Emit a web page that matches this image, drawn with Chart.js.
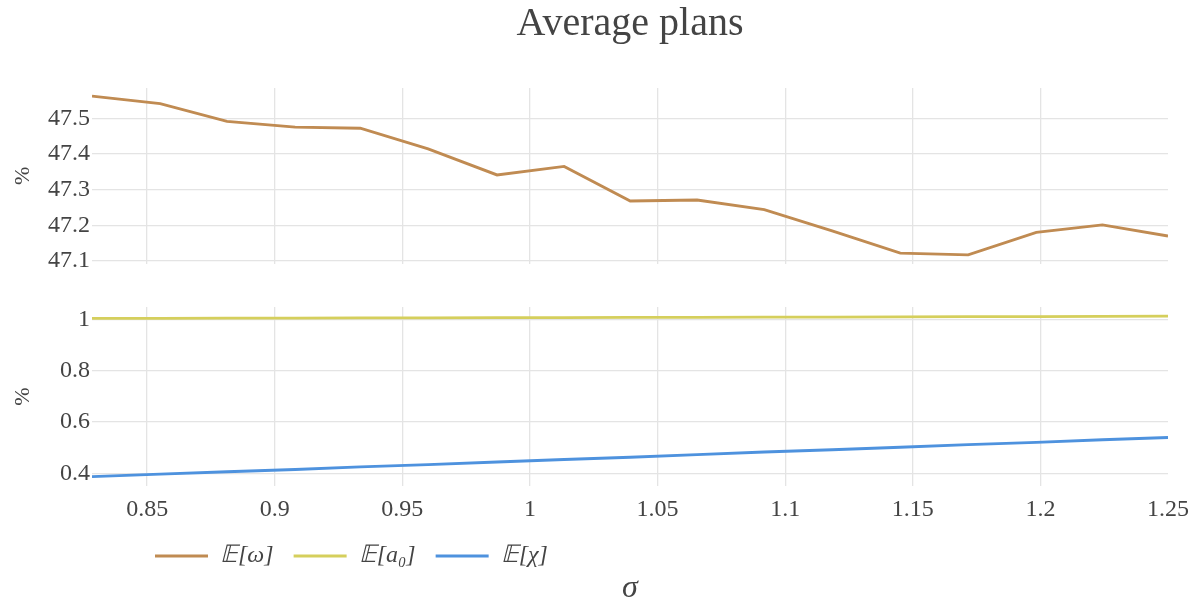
<!DOCTYPE html>
<html>
<head>
<meta charset="utf-8">
<script src="https://cdn.jsdelivr.net/npm/chart.js@4.4.1/dist/chart.umd.min.js"></script>
<style>
html,body{margin:0;padding:0;background:#ffffff;}
#wrap{position:relative;width:1196px;height:605px;overflow:hidden;}
#topChart{position:absolute;left:0;top:0;}
#botChart{position:absolute;left:0;top:280px;}
</style>
</head>
<body>
<div id="wrap">
<canvas id="topChart" width="1196" height="280"></canvas>
<canvas id="botChart" width="1196" height="325"></canvas>
</div>
<script>
// ---- data ----
const sigma = [0.8284, 0.8551, 0.8813, 0.9080, 0.9335, 0.9601, 0.9871, 1.0134, 1.0393,
               1.0655, 1.0918, 1.1184, 1.1451, 1.1717, 1.1984, 1.2243, 1.25];
const omega = [47.562, 47.541, 47.491, 47.475, 47.472, 47.414, 47.341, 47.365, 47.268,
               47.271, 47.244, 47.184, 47.122, 47.117, 47.180, 47.201, 47.170];
const a0    = [1.005, 1.005, 1.006, 1.006, 1.007, 1.007, 1.008, 1.008, 1.009,
               1.009, 1.010, 1.010, 1.011, 1.012, 1.012, 1.013, 1.014];
const chi   = [0.387, 0.397, 0.406, 0.415, 0.425, 0.434, 0.444, 0.454, 0.463,
               0.473, 0.483, 0.492, 0.502, 0.512, 0.521, 0.531, 0.540];
const seriesNames = ['𝔼[ω]', '𝔼[a₀]', '𝔼[χ]'];
const xTicks = [0.85, 0.9, 0.95, 1, 1.05, 1.1, 1.15, 1.2, 1.25];
const topTicks = [47.1, 47.2, 47.3, 47.4, 47.5];
const botTicks = [0.4, 0.6, 0.8, 1];
const chartTitle = 'Average plans';
const xTitle = 'σ';
const yTitle = '%';

// ---- styles ----
const COLORS = ['rgb(192,139,82)', 'rgb(213,207,92)', 'rgb(78,146,222)'];
const FONT = "'Liberation Serif', 'Times New Roman', serif";
const TEXT = '#444444';
const GRID = '#e4e4e4';
const X_MIN = 0.8284, X_MAX = 1.25;

function fmt(v) { return String(Math.round(v * 1000) / 1000); }
function pts(ys) { return sigma.map((x, i) => ({x: x, y: ys[i]})); }

function xScale(showLabels) {
  return {
    type: 'linear', min: X_MIN, max: X_MAX,
    afterBuildTicks: s => { s.ticks = xTicks.map(v => ({value: v})); },
    afterFit: s => { s.height = showLabels ? 33 : 0; s.paddingLeft = 0; s.paddingRight = 0; },
    grid: {
      color: c => (c.tick && Math.abs(c.tick.value - X_MAX) < 1e-9) ? 'rgba(0,0,0,0)' : GRID,
      lineWidth: 1.3, drawTicks: false
    },
    border: {display: false},
    ticks: {display: showLabels, autoSkip: false, maxRotation: 0, padding: 9,
            font: {family: FONT, size: 24}, color: TEXT, callback: v => fmt(v)}
  };
}
function yScale(min, max, tickArr) {
  return {
    type: 'linear', min: min, max: max,
    afterBuildTicks: s => { s.ticks = tickArr.map(v => ({value: v})); },
    afterFit: s => { s.width = 92; },
    grid: {color: GRID, lineWidth: 1.3, drawTicks: false},
    border: {display: false},
    ticks: {padding: 2, font: {family: FONT, size: 24}, color: TEXT, callback: v => fmt(v)},
    title: {display: true, text: yTitle, color: TEXT, font: {family: FONT, size: 22},
            padding: {top: 10, bottom: 0}}
  };
}
function lineDs(label, ys, color) {
  return {label: label, data: pts(ys), borderColor: color, backgroundColor: color,
          borderWidth: 2.9, pointRadius: 0, tension: 0, fill: false};
}

new Chart(document.getElementById('topChart'), {
  type: 'line',
  data: {datasets: [lineDs(seriesNames[0], omega, COLORS[0])]},
  options: {
    responsive: false, animation: false, events: [],
    layout: {padding: {left: 0, right: 28, top: 0, bottom: 13}},
    scales: {x: xScale(false), y: yScale(47.0926, 47.5847, topTicks)},
    plugins: {
      legend: {display: false},
      tooltip: {enabled: false},
      title: {display: true, fullSize: false, text: chartTitle, color: TEXT,
              font: {family: FONT, size: 40, weight: 'normal', lineHeight: 1},
              padding: {top: 4, bottom: 44}}
    }
  }
});

const legendShift = {
  id: 'legendShift',
  afterLayout(chart) {
    if (chart.legend) { chart.legend.left = 135; chart.legend.top += 5; chart.legend.bottom += 5; }
  }
};

new Chart(document.getElementById('botChart'), {
  type: 'line',
  data: {datasets: [lineDs(seriesNames[1], a0, COLORS[1]), lineDs(seriesNames[2], chi, COLORS[2])]},
  plugins: [legendShift],
  options: {
    responsive: false, animation: false, events: [],
    layout: {padding: {left: 0, right: 28, top: 27, bottom: 0}},
    scales: {x: xScale(true), y: yScale(0.3505, 1.0495, botTicks)},
    plugins: {
      tooltip: {enabled: false},
      legend: {
        display: true, position: 'bottom', align: 'start', maxHeight: 44,
        labels: {
          boxWidth: 53, boxHeight: 3, padding: 20, color: TEXT,
          font: {family: FONT, size: 24, style: 'italic'},
          generateLabels: () => seriesNames.map((t, i) => ({
            text: t, fillStyle: COLORS[i], strokeStyle: COLORS[i], lineWidth: 0,
            hidden: false, datasetIndex: i, fontColor: TEXT
          }))
        }
      },
      title: {display: true, fullSize: false, position: 'bottom', text: xTitle, color: TEXT,
              font: {family: FONT, size: 32, style: 'italic', weight: 'normal', lineHeight: 1},
              padding: {top: 10, bottom: 0}}
    }
  }
});
</script>
</body>
</html>
